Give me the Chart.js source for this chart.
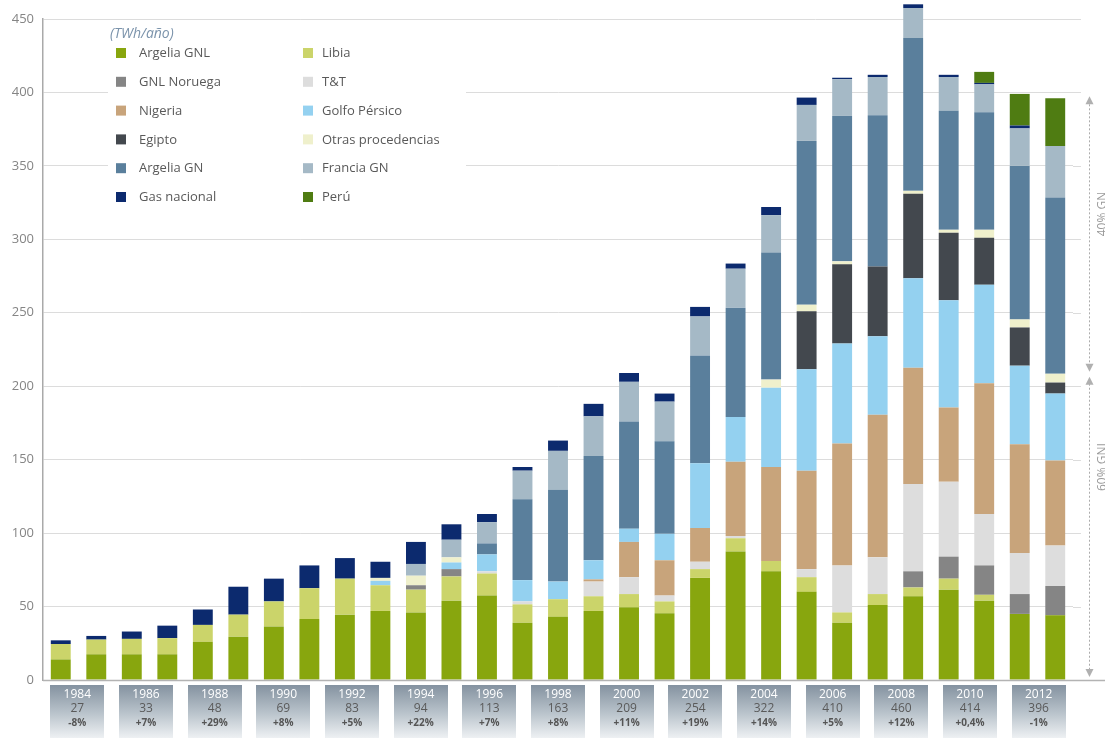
<!DOCTYPE html>
<html>
<head>
<meta charset="utf-8">
<script src="https://cdn.jsdelivr.net/npm/chart.js@4.4.1/dist/chart.umd.min.js"></script>
<style>
  html, body { margin: 0; padding: 0; background: #ffffff; }
  #wrap { width: 1105px; height: 738px; position: relative; }
</style>
</head>
<body>
<div id="wrap"><canvas id="chart" width="1105" height="738"></canvas></div>
<script>
// Years on the category axis (one bar per year)
const years = ['1984','1985','1986','1987','1988','1989','1990','1991','1992','1993','1994','1995','1996','1997','1998',
               '1999','2000','2001','2002','2003','2004','2005','2006','2007','2008','2009','2010','2011','2012'];

// Supply by origin, TWh/año (stacked bottom to top in this order)
const argeliaGNL   = [14, 17.5, 17.5, 17.5, 26, 29.5, 36.5, 41.5, 44.5, 47, 46, 54, 57.5, 39, 43, 47, 49.5, 45.5, 69.5, 87.5, 74, 60, 39, 51, 57, 61.5, 54, 45, 44];
const libia        = [10.5, 10, 10.5, 11, 11.5, 15, 17, 21, 24.5, 17.5, 15.5, 16.5, 15, 12.5, 12, 10, 9, 8, 6, 9, 7, 10, 7, 7.5, 6, 7.5, 4, 0, 0];
const gnlNoruega   = [0, 0, 0, 0, 0, 0, 0, 0, 0, 0, 3, 5, 0, 0, 0, 0, 0, 0, 0, 0, 0, 0, 0, 0, 11, 15, 20, 13.5, 20];
const tyt          = [0, 0, 0, 0, 0, 0, 0, 0, 0, 0, 0, 0, 1.5, 2, 0, 10, 11.5, 4, 5, 1.5, 0, 5.5, 32, 25, 59.5, 51, 35, 28, 27.5];
const nigeria      = [0, 0, 0, 0, 0, 0, 0, 0, 0, 0, 0, 0, 0, 0, 0, 1.5, 24, 24, 23, 50.5, 64, 67, 83, 97, 79, 50.5, 89, 74, 58];
const golfoPersico = [0, 0, 0, 0, 0, 0, 0, 0, 0, 3, 0, 4.5, 11.5, 14.5, 12, 13, 9, 18, 44, 30.5, 54, 69, 68, 53.5, 61, 73, 67, 53.5, 45.5];
const egipto       = [0, 0, 0, 0, 0, 0, 0, 0, 0, 0, 0, 0, 0, 0, 0, 0, 0, 0, 0, 0, 0, 39.5, 54, 47.5, 57.5, 46, 32, 26, 7.5];
const otras        = [0, 0, 0, 0, 0, 0, 0, 0, 0, 2, 6.5, 3.5, 0, 0, 0, 0, 0, 0, 0, 0, 5.5, 4.5, 2, 0, 2, 2, 5.5, 5.5, 6];
const argeliaGN    = [0, 0, 0, 0, 0, 0, 0, 0, 0, 0, 0, 0, 7.5, 55, 62.5, 71, 73, 63, 73.5, 74.5, 86.5, 111.5, 99, 103, 104, 81, 80, 104.5, 120];
const franciaGN    = [0, 0, 0, 0, 0, 0, 0, 0, 0, 0, 8, 12, 14.5, 19.5, 26.5, 27, 27, 27, 26.5, 26.5, 25.5, 24.5, 25, 26, 20.5, 23, 19, 25.5, 35];
const gasNacional  = [2.5, 2.5, 5, 8.5, 10.5, 19, 15.5, 15.5, 14, 11, 15, 10.5, 5.5, 2.5, 7, 8.5, 6, 5.5, 6.5, 3.5, 5.5, 5, 1, 1.5, 2.5, 1.5, 1, 2, 0];
const peru         = [0, 0, 0, 0, 0, 0, 0, 0, 0, 0, 0, 0, 0, 0, 0, 0, 0, 0, 0, 0, 0, 0, 0, 0, 0, 0, 7.5, 21.5, 32.5];

const seriesNames = ['Argelia GNL', 'Libia', 'GNL Noruega', 'T&T', 'Nigeria', 'Golfo Pérsico',
                     'Egipto', 'Otras procedencias', 'Argelia GN', 'Francia GN', 'Gas nacional', 'Perú'];
const seriesValues = [argeliaGNL, libia, gnlNoruega, tyt, nigeria, golfoPersico,
                      egipto, otras, argeliaGN, franciaGN, gasNacional, peru];
const seriesColors = ['#88a60e', '#cbd46a', '#858585', '#dddddd', '#c8a47b', '#94d1f0',
                      '#43484e', '#eff0cc', '#5a7f9c', '#a5b9c6', '#0c2a6e', '#4f7c12'];

// Legend rows: two columns, read left to right
const legendOrder = ['Argelia GNL', 'Libia', 'GNL Noruega', 'T&T', 'Nigeria', 'Golfo Pérsico',
                     'Egipto', 'Otras procedencias', 'Argelia GN', 'Francia GN', 'Gas nacional', 'Perú'];

// Summary boxes under the axis (every second year)
const boxYears   = ['1984','1986','1988','1990','1992','1994','1996','1998','2000','2002','2004','2006','2008','2010','2012'];
const boxTotals  = ['27','33','48','69','83','94','113','163','209','254','322','410','460','414','396'];
const boxChanges = ['-8%','+7%','+29%','+8%','+5%','+22%','+7%','+8%','+11%','+19%','+14%','+5%','+12%','+0,4%','-1%'];

const unitLabel = '(TWh/año)';
const shareGN  = '40% GN';
const shareGNL = '60% GNL';

const FONT = "'Open Sans', 'Liberation Sans', sans-serif";

// white panel with the two-column legend, drawn over the grid
const gridLegend = {
  id: 'gridLegend',
  beforeDatasetsDraw(chart) {
    const ctx = chart.ctx;
    const yS = chart.scales.y;
    const area = chart.chartArea;
    ctx.save();
    // grid lines run a little past the plot on the right
    ctx.strokeStyle = '#dcdcdc';
    ctx.lineWidth = 1;
    yS.ticks.forEach(t => {
      const py = Math.round(yS.getPixelForValue(t.value)) + 0.5;
      ctx.beginPath();
      ctx.moveTo(area.right, py);
      ctx.lineTo(area.right + 8, py);
      ctx.stroke();
    });
    // legend panel
    ctx.fillStyle = '#ffffff';
    ctx.fillRect(108, 22, 358, 192);
    ctx.font = 'italic 14px ' + FONT;
    ctx.fillStyle = '#7b93ab';
    ctx.textAlign = 'left';
    ctx.textBaseline = 'middle';
    ctx.fillText(unitLabel, 110, 34);
    ctx.font = '13px ' + FONT;
    legendOrder.forEach((name, i) => {
      const idx = seriesNames.indexOf(name);
      const col = i % 2, row = Math.floor(i / 2);
      const sx = col ? 303 : 116;
      const cy = 53 + row * 28.8;
      ctx.fillStyle = seriesColors[idx];
      ctx.fillRect(sx, cy - 5, 10, 10);
      ctx.fillStyle = '#595959';
      ctx.fillText(name, col ? 322 : 139, cy + 0.5);
    });
    ctx.restore();
  },
  afterDatasetsDraw(chart) {
    const ctx = chart.ctx;
    const area = chart.chartArea;
    const yS = chart.scales.y;
    ctx.save();
    // bottom axis line, full width
    ctx.strokeStyle = '#b3b3b3';
    ctx.lineWidth = 1.5;
    ctx.beginPath();
    ctx.moveTo(area.left, area.bottom + 0.5);
    ctx.lineTo(chart.width, area.bottom + 0.5);
    ctx.stroke();

    // GN / GNL split of the last year
    const last = years.length - 1;
    let gnlSum = 0, total = 0;
    seriesValues.forEach((arr, i) => {
      total += arr[last];
      if (i <= seriesNames.indexOf('Otras procedencias')) gnlSum += arr[last];
    });
    const yTop = yS.getPixelForValue(total);
    const ySplit = yS.getPixelForValue(gnlSum);
    const yZero = yS.getPixelForValue(0);
    const lx = 1089.5;
    ctx.strokeStyle = '#ababab';
    ctx.fillStyle = '#b0b0b0';
    ctx.lineWidth = 1;
    ctx.setLineDash([2, 2]);
    const seg = (a, b) => { ctx.beginPath(); ctx.moveTo(lx, a); ctx.lineTo(lx, b); ctx.stroke(); };
    seg(yTop + 6, ySplit - 6);
    seg(ySplit + 6, yZero - 6);
    ctx.setLineDash([]);
    const arrow = (y, up) => {
      ctx.beginPath();
      if (up) { ctx.moveTo(lx, y); ctx.lineTo(lx - 4, y + 8); ctx.lineTo(lx + 4, y + 8); }
      else    { ctx.moveTo(lx, y); ctx.lineTo(lx - 4, y - 8); ctx.lineTo(lx + 4, y - 8); }
      ctx.closePath(); ctx.fill();
    };
    arrow(yTop - 2, true);
    arrow(ySplit - 2, false);
    arrow(ySplit + 3, true);
    arrow(yZero - 3, false);
    ctx.fillStyle = '#9a9a9a';
    ctx.font = '12px ' + FONT;
    ctx.textAlign = 'center';
    ctx.textBaseline = 'middle';
    const vtext = (txt, cy) => {
      ctx.save();
      ctx.translate(1103, cy);
      ctx.rotate(-Math.PI / 2);
      ctx.fillText(txt, 0, 0);
      ctx.restore();
    };
    vtext(shareGN, yTop + (ySplit - yTop) * 0.42);
    vtext(shareGNL, ySplit + (yZero - ySplit) * 0.3);

    // summary boxes under the axis
    const x2 = chart.scales.x2;
    boxYears.forEach((yr, k) => {
      const cx = x2.getPixelForValue(k);
      const w = 54, top = area.bottom + 5, h = 56;
      const g = ctx.createLinearGradient(0, top, 0, top + h);
      g.addColorStop(0, '#8492a0');
      g.addColorStop(0.5, '#b9c3cb');
      g.addColorStop(1, '#f4f6f8');
      ctx.fillStyle = g;
      ctx.fillRect(Math.round(cx - w / 2), top, w, h);
      ctx.textAlign = 'center';
      ctx.textBaseline = 'middle';
      ctx.font = '12px ' + FONT;
      ctx.fillStyle = '#ffffff';
      ctx.fillText(yr, cx, top + 10);
      ctx.fillStyle = '#5a5a5a';
      ctx.fillText(boxTotals[k], cx, top + 24);
      ctx.font = 'bold 10px ' + FONT;
      ctx.fillStyle = '#555555';
      ctx.fillText(boxChanges[k], cx, top + 38);
    });
    ctx.restore();
  }
};

const datasets = seriesNames.map((name, i) => ({
  label: name,
  data: seriesValues[i],
  backgroundColor: seriesColors[i],
  borderWidth: 0,
  barPercentage: 0.56,
  categoryPercentage: 1,
  clip: false,
  stack: 'supply'
}));

new Chart(document.getElementById('chart'), {
  type: 'bar',
  data: { labels: years, datasets },
  options: {
    responsive: false,
    animation: false,
    devicePixelRatio: 1,
    layout: { padding: { top: 19, right: 32, bottom: 58, left: 0 } },
    plugins: { legend: { display: false }, tooltip: { enabled: false } },
    scales: {
      x: {
        stacked: true,
        display: false,
        offset: true
      },
      x2: {
        type: 'category',
        labels: boxYears,
        display: false,
        offset: true,
        position: 'bottom'
      },
      y: {
        stacked: true,
        min: 0,
        max: 450,
        afterFit(scale) { scale.width = 43; },
        ticks: {
          stepSize: 50,
          color: '#858585',
          padding: 9,
          font: { family: FONT, size: 13 }
        },
        grid: { color: '#dcdcdc', lineWidth: 1, drawTicks: false },
        border: { display: true, color: '#a9a9a9', width: 1.5 }
      }
    }
  },
  plugins: [gridLegend]
});
</script>
</body>
</html>
